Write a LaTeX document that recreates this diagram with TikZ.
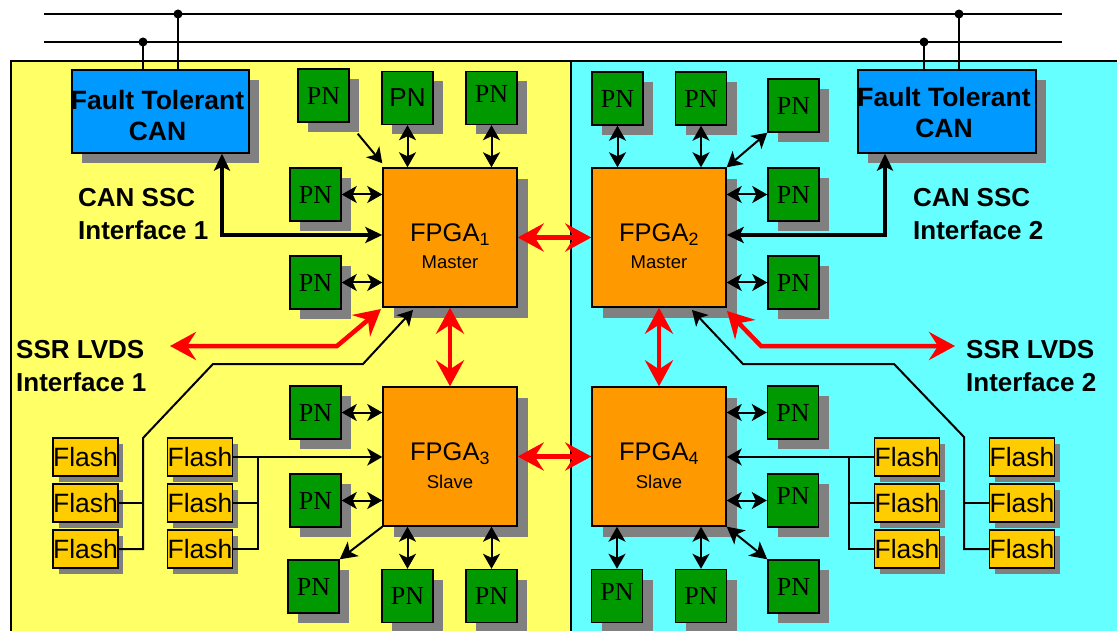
\documentclass[tikz,border=0pt]{standalone}
\usepackage{fontspec}
\setmainfont{Liberation Sans}
\newfontfamily\pnserif{Liberation Serif}
\usetikzlibrary{arrows.meta,shadows,calc}

\definecolor{panelY}{HTML}{FFFF66}
\definecolor{panelC}{HTML}{66FFFF}
\definecolor{canblue}{HTML}{0099FF}
\definecolor{fpgaor}{HTML}{FF9900}
\definecolor{pngreen}{HTML}{009900}
\definecolor{flashy}{HTML}{FFCC00}
\definecolor{shd}{HTML}{808080}
\definecolor{linkred}{HTML}{FF0000}

\tikzset{
  shadowbox/.style={draw=black, line width=1.4pt, inner sep=0pt,
    drop shadow={shadow xshift=#1, shadow yshift=-#1, opacity=1, fill=shd}},
  pnbox/.style={shadowbox=10pt, fill=pngreen, minimum width=51pt, minimum height=53pt,
    font=\pnserif\fontsize{26}{26}\selectfont},
  fpgabox/.style={shadowbox=11pt, fill=fpgaor, minimum width=134pt, minimum height=139pt},
  canbox/.style={shadowbox=10pt, fill=canblue, minimum height=83pt},
  cantext/.style={inner sep=0pt, align=center, font=\bfseries\fontsize{26.5}{31}\selectfont},
  flashbox/.style={shadowbox=5.5pt, fill=flashy, minimum width=63pt, minimum height=38pt,
    font=\fontsize{26.5}{26}\selectfont},
  lbl/.style={inner sep=0pt, align=left, anchor=west, font=\bfseries\fontsize{26}{33}\selectfont},
  ftitle/.style={inner sep=0pt, font=\fontsize{25.5}{26}\selectfont},
  frole/.style={inner sep=0pt, font=\fontsize{18.5}{18}\selectfont},
  bus/.style={line width=2pt},
  wire/.style={line width=2pt},
  tipA/.tip={Stealth[length=15pt,width=17pt,inset=4pt]},
  tipB/.tip={Stealth[length=17pt,width=18pt,inset=4.5pt]},
  darr/.style={line width=2pt, tipA-tipA},
  sarr/.style={line width=2pt, -tipA},
  bigsarr/.style={line width=2pt, -tipB},
  bigdarr/.style={line width=2pt, tipB-tipB},
  canarr/.style={line width=4.5pt, line join=miter,
    {Stealth[length=17pt,width=16pt,inset=4pt]}-{Stealth[length=17pt,width=16pt,inset=4pt]}},
  redarr/.style={draw=linkred, line width=4.5pt, line join=miter,
    {Stealth[length=26pt,width=28pt,inset=9pt]}-{Stealth[length=26pt,width=28pt,inset=9pt]}},
}

\begin{document}
\begin{tikzpicture}[x=1pt, y=-1pt]
\useasboundingbox (0,0) rectangle (1117,631);
\clip (0,0) rectangle (1117,631);

% two halves of the board
\fill[panelY] (11,61) rectangle (571,640);
\fill[panelC] (571,61) rectangle (1120,640);
\draw[line width=1.4pt] (11,640) -- (11,61) -- (1120,61);
\draw[line width=1.4pt] (571,61) -- (571,640);

% external CAN bus
\coordinate (busAl) at (44,14);  \coordinate (busAr) at (1062,14);
\coordinate (busBl) at (44,42);  \coordinate (busBr) at (1062,42);
\draw[bus] (busAl) -- (busAr);
\draw[bus] (busBl) -- (busBr);

% CAN controllers
\node[canbox, minimum width=177pt] (can1) at (160.5,111.5) {};
\node[canbox, minimum width=178pt] (can2) at (947,111.5) {};
\node[cantext] (can1t) at ($(can1)+(-3,4)$) {Fault Tolerant\\CAN};
\node[cantext] (can2t) at ($(can2)+(-3,1)$) {Fault Tolerant\\CAN};

\coordinate (tap1) at (178,14);  \coordinate (tap2) at (143,42);
\coordinate (tap3) at (959,14);  \coordinate (tap4) at (924,42);
\foreach \t/\c in {tap1/can1, tap2/can1, tap3/can2, tap4/can2}{
  \draw[bus] (\t) -- (\t |- \c.north);
  \fill (\t) circle (4.5pt);
}

% FPGAs
\node[fpgabox] (f1) at (450,237.5) {};
\node[fpgabox] (f2) at (659,237.5) {};
\node[fpgabox] (f3) at (450,456.5) {};
\node[fpgabox] (f4) at (659,456.5) {};
\node[ftitle] (f1a) at ($(f1)+(0,-3)$) {FPGA\textsubscript{1}};
\node[frole]  (f1b) at ($(f1)+(0,25)$) {Master};
\node[ftitle] (f2a) at ($(f2)+(0,-3)$) {FPGA\textsubscript{2}};
\node[frole]  (f2b) at ($(f2)+(0,25)$) {Master};
\node[ftitle] (f3a) at ($(f3)+(0,-3)$) {FPGA\textsubscript{3}};
\node[frole]  (f3b) at ($(f3)+(0,25)$) {Slave};
\node[ftitle] (f4a) at ($(f4)+(0,-3)$) {FPGA\textsubscript{4}};
\node[frole]  (f4b) at ($(f4)+(0,25)$) {Slave};

% processing nodes
\node[pnbox] (pn1) at (323.5,95.5) {PN};
\node[pnbox, font=\fontsize{26}{26}\selectfont] (pn2) at (407.5,98) {PN};
\node[pnbox] (pn3) at (491.5,98) {\raisebox{9pt}{PN}};
\node[pnbox] (pn4) at (315.5,194.5) {PN};
\node[pnbox] (pn5) at (315.5,282.5) {PN};
\node[pnbox] (pn6) at (617.5,98.5) {PN};
\node[pnbox] (pn7) at (701,98.5) {PN};
\node[pnbox] (pn8) at (793.5,105.5) {PN};
\node[pnbox] (pn9) at (793.5,194.5) {PN};
\node[pnbox] (pn10) at (793.5,282.5) {PN};
\node[pnbox] (pn11) at (315.5,412.5) {PN};
\node[pnbox] (pn12) at (315.5,500.5) {PN};
\node[pnbox] (pn13) at (313.5,586.5) {PN};
\node[pnbox] (pn14) at (407.5,596) {PN};
\node[pnbox] (pn15) at (491.5,596) {PN};
\node[pnbox] (pn16) at (793,412.5) {PN};
\node[pnbox] (pn17) at (793,500.5) {\raisebox{9pt}{PN}};
\node[pnbox] (pn18) at (617,596) {\raisebox{9pt}{PN}};
\node[pnbox] (pn19) at (701,596) {PN};
\node[pnbox] (pn20) at (793.5,586.5) {PN};

% flash memories
\foreach \col/\x in {1/85.5, 2/200, 3/907, 4/1022}{
  \foreach \row/\y in {1/457, 2/503, 3/549}{
    \node[flashbox] (fl\col\row) at (\x,\y) {Flash};
  }
}

% interface labels
\node[lbl] (lcan1) at (78,214) {CAN SSC\\Interface 1};
\node[lbl] (lcan2) at (913,214) {CAN SSC\\Interface 2};
\node[lbl] (lssr1) at (16,366) {SSR LVDS\\Interface 1};
\node[lbl] (lssr2) at (966,366) {SSR LVDS\\Interface 2};

% CAN SSC links
\coordinate (cbend1) at (222,235);
\coordinate (cbend2) at (885,235);
\draw[canarr] (cbend1 -| f1.west) -- (cbend1) -- (cbend1 |- can1.south);
\draw[canarr] (cbend2 -| f2.east) -- (cbend2) -- (cbend2 |- can2.south);

% PN links around FPGA1
\draw[sarr] ($(pn1.south east)+(8,11)$) -- ($(f1.north west)+(0,-4)$);
\draw[darr] (pn2.south) -- (pn2.south |- f1.north);
\draw[darr] (pn3.south) -- (pn3.south |- f1.north);
\draw[darr] (pn4.east) -- (pn4.east -| f1.west);
\draw[darr] (pn5.east) -- (pn5.east -| f1.west);
% PN links around FPGA2
\draw[darr] (pn6.south) -- (pn6.south |- f2.north);
\draw[darr] (pn7.south) -- (pn7.south |- f2.north);
\draw[darr] (pn8.south west) -- (f2.north east);
\draw[darr] (pn9.west) -- (pn9.west -| f2.east);
\draw[darr] (pn10.west) -- (pn10.west -| f2.east);
% PN links around FPGA3
\draw[darr] (pn11.east) -- (pn11.east -| f3.west);
\draw[darr] (pn12.east) -- (pn12.east -| f3.west);
\draw[bigsarr] (f3.south west) -- (pn13.north east);
\draw[darr] (pn14.north) -- (pn14.north |- f3.south);
\draw[darr] (pn15.north) -- (pn15.north |- f3.south);
% PN links around FPGA4
\draw[darr] (pn16.west) -- (pn16.west -| f4.east);
\draw[darr] (pn17.west) -- (pn17.west -| f4.east);
\draw[darr] (pn18.north) -- (pn18.north |- f4.south);
\draw[darr] (pn19.north) -- (pn19.north |- f4.south);
\draw[bigdarr] (f4.south east) -- (pn20.north west);

% flash buses
\coordinate (fb2) at (258,457);
\draw[sarr] (fl21.east) -- (fl21.east -| f3.west);
\draw[wire] (fb2) |- (fl23.east);
\draw[wire] (fl22.east) -- (fl22.east -| fb2);

\coordinate (fb3) at (849,457);
\draw[sarr] (fl31.west) -- (fl31.west -| f4.east);
\draw[wire] (fb3) |- (fl33.west);
\draw[wire] (fl32.west) -- (fl32.west -| fb3);

\coordinate (fk1) at (143,438);
\coordinate (fk2) at (213,364);
\coordinate (fk3) at (363,364);
\coordinate (ftip1) at (413,310);
\draw[sarr] (fl13.east) -| (fk1) -- (fk2) -- (fk3) -- (ftip1);
\draw[wire] (fl12.east) -- (fl12.east -| fk1);

\coordinate (fk4) at (964,437);
\coordinate (fk5) at (894,364);
\coordinate (fk6) at (743,364);
\coordinate (ftip2) at (692,310);
\draw[sarr] (fl43.west) -| (fk4) -- (fk5) -- (fk6) -- (ftip2);
\draw[wire] (fl42.west) -- (fl42.west -| fk4);

% inter-FPGA links
\draw[redarr] (f1.east) -- (f2.west);
\draw[redarr] (f3.east) -- (f4.west);
\draw[redarr] (f1.south) -- (f3.north);
\draw[redarr] (f2.south) -- (f4.north);

% SSR LVDS links
\coordinate (ssr1end) at (170,346);
\coordinate (ssr1bend) at (337,346);
\coordinate (ssr1tip) at (381,309);
\draw[redarr] (ssr1end) -- (ssr1bend) -- (ssr1tip);
\coordinate (ssr2end) at (955,346);
\coordinate (ssr2bend) at (761,346);
\coordinate (ssr2tip) at (727,311);
\draw[redarr] (ssr2end) -- (ssr2bend) -- (ssr2tip);
\end{tikzpicture}
\end{document}
